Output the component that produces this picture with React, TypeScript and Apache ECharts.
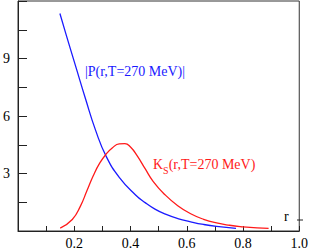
import React, { useEffect, useRef } from "react";
import * as echarts from "echarts";

const pR = [0.149, 0.17, 0.207, 0.24, 0.276, 0.314, 0.36, 0.418, 0.452, 0.487, 0.522, 0.568, 0.614, 0.66, 0.706, 0.775];
const pV = [11.35, 10.3, 8.5, 6.9, 5.25, 3.88, 2.8, 1.88, 1.48, 1.14, 0.89, 0.65, 0.48, 0.34, 0.24, 0.14];

const kR = [0.15, 0.193, 0.222, 0.245, 0.268, 0.291, 0.314, 0.335, 0.36, 0.38, 0.4, 0.424, 0.452, 0.481, 0.522, 0.568, 0.614, 0.66, 0.706, 0.752, 0.798, 0.85, 0.891];
const kV = [0.15, 0.6, 1.3, 2.1, 2.9, 3.55, 4.02, 4.33, 4.55, 4.56, 4.38, 3.92, 3.25, 2.58, 1.9, 1.32, 0.9, 0.61, 0.42, 0.3, 0.22, 0.16, 0.14];

const xLabels = ["0.2", "0.4", "0.6", "0.8", "1.0"];
const yLabels = ["3", "6", "9"];

const FONT = "Liberation Serif";

export default function App() {
  const ref = useRef<HTMLDivElement>(null);
  useEffect(() => {
    const chart = echarts.init(ref.current!, null, { renderer: "svg" });
    chart.setOption({
      animation: false,
      textStyle: { fontFamily: FONT },
      grid: {
        left: 14,
        right: 8,
        top: 1,
        bottom: 19,
        show: true,
        borderColor: "#333",
        borderWidth: 1,
      },
      xAxis: {
        type: "value",
        min: 0,
        max: 1,
        interval: 0.1,
        axisLine: { lineStyle: { color: "#222", width: 1 } },
        axisTick: { inside: true, length: 5, lineStyle: { color: "#222" } },
        splitLine: { show: false },
        axisLabel: {
          color: "#000",
          fontFamily: FONT,
          fontSize: 14,
          margin: 5,
          formatter: (v: number) => {
            const s = v.toFixed(1);
            return xLabels.includes(s) ? s : "";
          },
        },
      },
      yAxis: {
        type: "value",
        min: 0,
        max: 12,
        interval: 1.5,
        axisLine: { show: true, lineStyle: { color: "#222", width: 1 } },
        axisTick: { show: true, inside: true, length: 9, lineStyle: { color: "#222" } },
        splitLine: { show: false },
        axisLabel: {
          color: "#000",
          fontFamily: FONT,
          fontSize: 14,
          margin: 8,
          formatter: (v: number) => {
            const s = String(v);
            return yLabels.includes(s) ? s : "";
          },
        },
      },
      series: [
        {
          type: "line",
          data: pR.map((r, i) => [r, pV[i]]),
          smooth: 0.5,
          showSymbol: false,
          lineStyle: { color: "#1a1aff", width: 1.3 },
        },
        {
          type: "line",
          data: kR.map((r, i) => [r, kV[i]]),
          smooth: 0.5,
          showSymbol: false,
          lineStyle: { color: "#ff1a1a", width: 1.3 },
        },
      ],
      graphic: [
        {
          type: "text",
          x: 85,
          y: 71,
          style: {
            text: "|P(r,T=270 MeV)|",
            fill: "#1a1aff",
            fontFamily: FONT,
            fontSize: 14,
            verticalAlign: "middle",
          },
        },
        {
          type: "text",
          x: 153,
          y: 157,
          style: {
            text: "{a|K}{s|S}{a|(r,T=270 MeV)}",
            fill: "#ff1a1a",
            fontFamily: FONT,
            rich: {
              a: { fontFamily: FONT, fontSize: 14, fill: "#ff1a1a", verticalAlign: "top", lineHeight: 18 },
              s: { fontFamily: FONT, fontSize: 10, fill: "#ff1a1a", verticalAlign: "bottom", lineHeight: 18, padding: [7, 0, 0, 0] },
            },
          },
        },
        {
          type: "text",
          x: 284,
          y: 216,
          style: {
            text: "r",
            fill: "#000",
            fontFamily: FONT,
            fontSize: 14,
            verticalAlign: "middle",
          },
        },
        {
          type: "line",
          shape: { x1: 297, y1: 220, x2: 303, y2: 220 },
          style: { stroke: "#222", lineWidth: 1 },
        },
      ],
    });
    return () => chart.dispose();
  }, []);
  return <div ref={ref} style={{ width: 311, height: 250, position: "absolute", left: 0, top: 0 }} />;
}
